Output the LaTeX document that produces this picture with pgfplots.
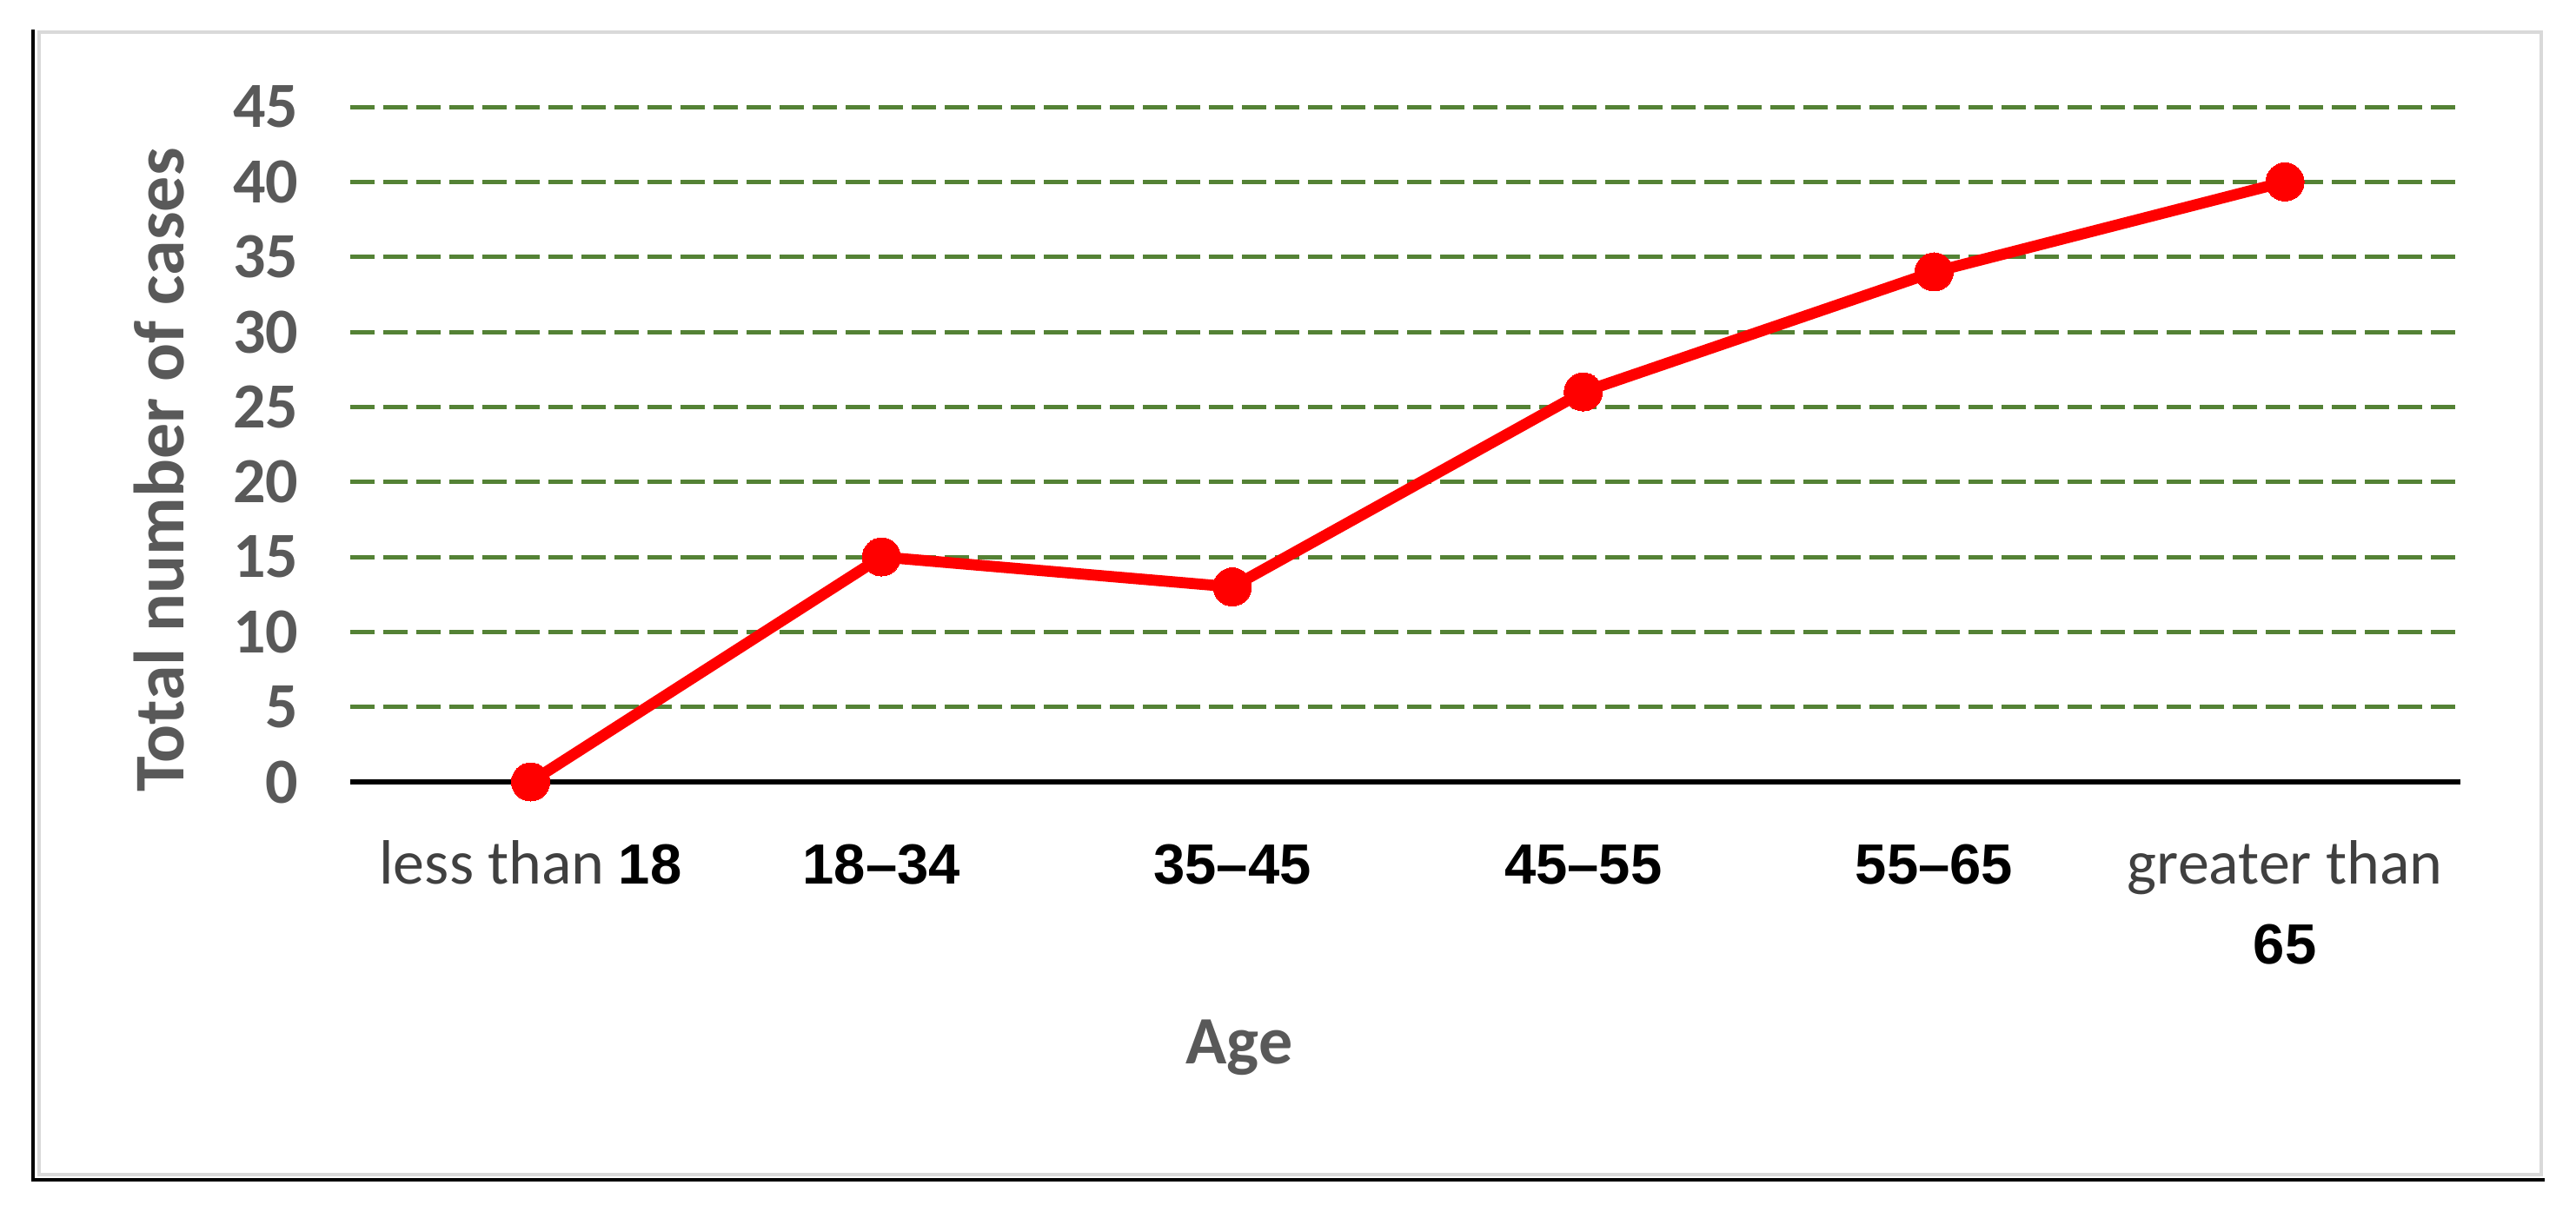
\documentclass[border=0pt]{standalone}
\usepackage{pgfplots}
\pgfplotsset{compat=1.18}
\usepackage{fontspec}
\setmainfont{Carlito}
\newfontfamily\arialfont{Liberation Sans}
\definecolor{gridgreen}{HTML}{548235}
\definecolor{tickgrey}{HTML}{595959}
\definecolor{catgrey}{HTML}{404040}
\newcommand{\cw}[1]{{\fontsize{18}{23}\selectfont\rmfamily\mdseries\color{catgrey}#1}}
\newcommand{\st}{\rule{0pt}{14pt}}
\begin{document}
\begin{tikzpicture}
\useasboundingbox (-100.75pt,-121.5pt) rectangle (640.25pt,225pt);
\fill[white] (-100.75pt,-121.5pt) rectangle (640.25pt,225pt);
\draw[line width=1.2pt, color=black!15] (-89.5pt,-113pt) rectangle (630.25pt,215.75pt);
\draw[line width=0.8pt, black] (-91.25pt,216.5pt) -- (-91.25pt,-114.5pt) -- (631.25pt,-114.5pt);
\begin{axis}[
  at={(0pt,0pt)}, anchor=south west, scale only axis,
  width=607pt, height=194.25pt,
  xmin=-0.514, xmax=5.50, ymin=0, ymax=45,
  clip=false,
  axis x line*=bottom, axis y line*=left,
  y axis line style={draw=none},
  x axis line style={black, line width=1.5pt},
  tick style={draw=none}, major tick length=0pt,
  xtick={0,1,2,3,4,5},
  xticklabels={{\st\cw{less than }18},{\st 18–34},{\st 35–45},{\st 45–55},{\st 55–65},{\st\cw{greater than}\\65}},
  ytick={0,5,...,45},
  ymajorgrids,
  grid style={gridgreen, line width=1.25pt, dash pattern=on 7pt off 2.5pt},
  /pgf/number format/assume math mode=true,
  x tick label style={font=\arialfont\bfseries\fontsize{16.3}{23}\selectfont, text=black, anchor=north, inner sep=0pt, yshift=-15.25pt, align=center},
  y tick label style={font=\bfseries\fontsize{18.5}{20}\selectfont, text=tickgrey, anchor=east, inner sep=0pt, xshift=-14.75pt},
  ylabel={Total number of cases},
  ylabel style={font=\bfseries\fontsize{20.5}{24}\selectfont, text=tickgrey, at={(axis description cs:-0.0787,0.462)}, anchor=base},
  xlabel={Age},
  xlabel style={font=\bfseries\fontsize{19.5}{23}\selectfont, text=tickgrey, at={(axis description cs:0.4213,-0.418)}, anchor=base},
]
\addplot[color=red, line width=3.2pt, mark=*, mark size=5.5pt, mark options={solid, fill=red, draw=red, line width=0pt}]
  coordinates {(0,0) (1,15) (2,13) (3,26) (4,34) (5,40)};
\end{axis}
\end{tikzpicture}
\end{document}
